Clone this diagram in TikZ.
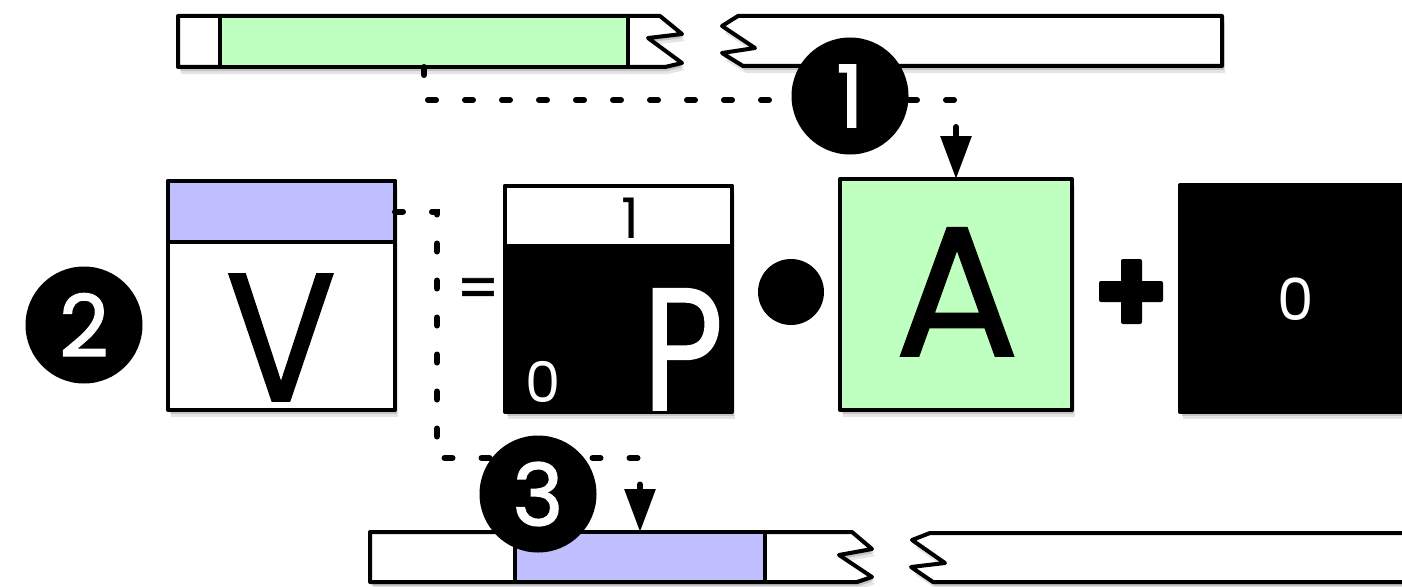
\documentclass[tikz,border=0pt]{standalone}
\usepackage{fontspec}
\setmainfont{Poppins}
\newfontfamily\fbig[FakeBold=1]{Poppins}
\newfontfamily\fvee[FakeBold=1,FakeStretch=0.9]{Poppins}
\newfontfamily\fnarrow[FakeBold=1,FakeStretch=0.8]{Poppins}
\newfontfamily\fbadge[FakeBold=1.6]{Poppins}
\usetikzlibrary{shadows,arrows.meta,calc}
\definecolor{lgreen}{RGB}{191,255,191}
\definecolor{lblue}{RGB}{191,191,255}
\begin{document}
\begin{tikzpicture}[x=1pt,y=-1pt,
  shd/.style={drop shadow={shadow xshift=1pt,shadow yshift=-2pt,opacity=0.18,fill=black},
              drop shadow={shadow xshift=2pt,shadow yshift=-4pt,opacity=0.14,fill=black},
              drop shadow={shadow xshift=3pt,shadow yshift=-7pt,opacity=0.10,fill=black}},
  outl/.style={draw=black,line width=4pt,line join=round},
  box/.style={outl,inner sep=0pt,outer sep=0pt,anchor=north west},
  conn/.style={line width=6pt,line cap=round,dash pattern=on 8pt off 29pt,-{Triangle[width=30pt,length=43pt]}},
  badge/.style={circle,fill=black,text=white,minimum size=117pt,inner sep=0pt,font=\fbadge\fontsize{86}{86}\selectfont},
  fs/.style={font=\fontsize{#1}{#1}\selectfont},
]
\fill[white] (0,0) rectangle (1402,586);
\useasboundingbox (0,0) rectangle (1402,586);

% top bars
\draw[outl,fill=white,shd] (178,16) -- (660,16) -- (682,34) -- (648,38) -- (682,63) -- (665,67) -- (178,67) -- cycle;
\node[box,fill=lgreen,minimum width=408pt,minimum height=51pt] (tg) at (220,16) {};
\draw[outl,fill=white,shd] (738,16) -- (1222,16) -- (1222,66) -- (743,66) -- (722,53) -- (755,48) -- (722,26) -- cycle;

% bottom bars
\draw[outl,fill=white,shd] (370,532) -- (852,532) -- (872,549) -- (839,555) -- (872,577) -- (857,582) -- (370,582) -- cycle;
\node[box,fill=lblue,minimum width=250pt,minimum height=50pt] (bb) at (515,532) {};
\draw[outl,fill=white,shd] (930,533) -- (1420,533) -- (1420,582) -- (933,582) -- (911,567) -- (945,563) -- (912,540) -- cycle;

% V box
\node[box,fill=white,shd,minimum width=227pt,minimum height=229pt] (vbox) at (168,181) {};
\node[box,fill=lblue,minimum width=227pt,minimum height=61pt] (vb) at (168,181) {};
\node[anchor=base,font=\fvee\fontsize{182}{182}\selectfont,inner sep=0pt] (vt) at (281,401) {V};

\node[anchor=base,font=\fbig\fontsize{60}{60}\selectfont,inner sep=0pt] (eq) at (478,309) {=};

% P box
\node[box,fill=black,shd,minimum width=227pt,minimum height=226pt] (pbox) at (505,186) {};
\node[box,fill=white,minimum width=227pt,minimum height=60pt] (pw) at (505,186) {};
\node[anchor=base,fs=56,inner sep=0pt] (p1) at (630,238) {1};
\node[anchor=base,fs=56,inner sep=0pt,text=white] (p0) at (543,402) {0};
\node[anchor=base,font=\fnarrow\fontsize{174}{174}\selectfont,inner sep=0pt,text=white] (pt) at (683,410) {P};

% dot
\fill (791,292) circle (33);

% A box
\node[box,fill=lgreen,shd,minimum width=232pt,minimum height=231pt] (abox) at (840,179) {};
\node[anchor=base,font=\fbig\fontsize{185}{185}\selectfont,inner sep=0pt] (at) at (957,356) {A};

% plus
\fill[rounded corners=2pt] (1099,281) rectangle (1163,302);
\fill[rounded corners=2pt] (1121,259) rectangle (1142,324);

% right black box
\node[box,fill=black,shd,draw=black,minimum width=240pt,minimum height=227pt] (zbox) at (1180,185) {};
\node[anchor=base,fs=58,inner sep=0pt,text=white] (z0) at (1296,320) {0};

% connectors
\draw[conn] (tg.south) -- ++(0,33) -| (abox.north);
\draw[conn] (vb.east) -- ++(42,0) |- ($(bb.north)+(0,-74)$) -- (bb.north);

% badges
\node[badge] (b1) at (850,96) {1};
\node[badge] (b2) at (84,325) {2};
\node[badge] (b3) at (538,494) {3};
\end{tikzpicture}
\end{document}
